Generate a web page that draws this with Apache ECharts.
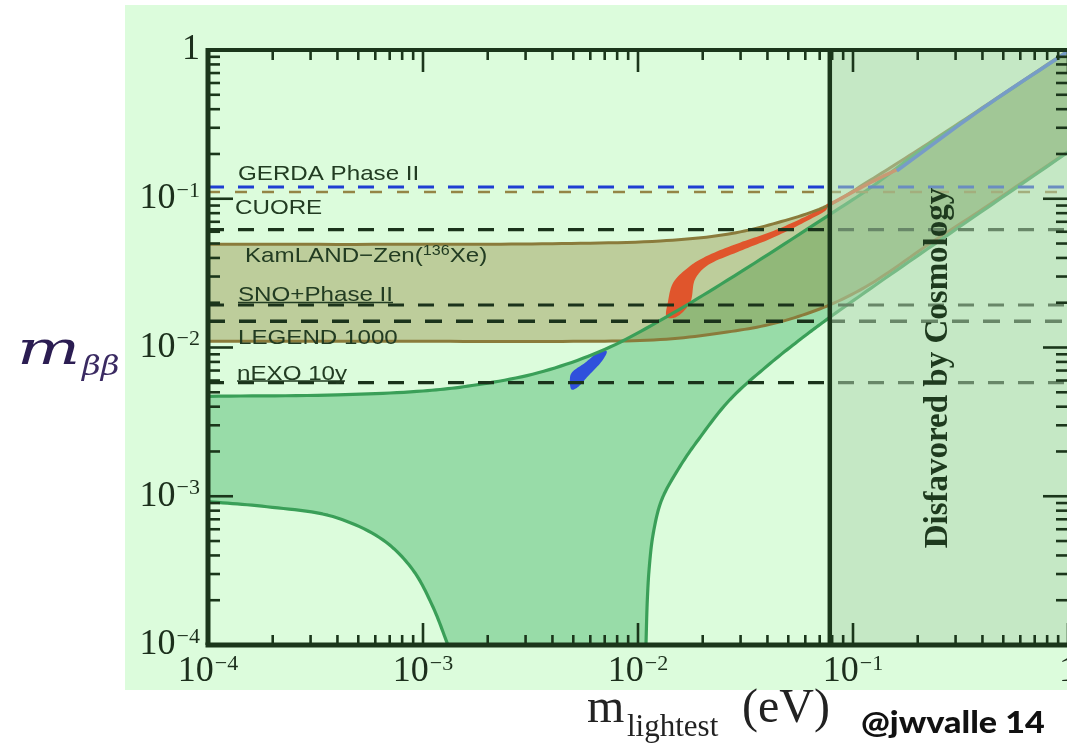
<!DOCTYPE html>
<html>
<head>
<meta charset="utf-8">
<script src="https://cdn.jsdelivr.net/npm/echarts@6/dist/echarts.min.js"></script>
<style>
  html, body { margin: 0; padding: 0; background: #ffffff; overflow: hidden; }
  #chart { width: 1067px; height: 743px; }
</style>
</head>
<body>
<div id="chart"></div>
<script>
// ---- axis ranges (eV) and ticks ----
const xMin = 1e-4, xMax = 1;
const yMin = 1e-4, yMax = 1;
const tickExponents = [-4, -3, -2, -1, 0];
const minorSteps = [2, 3, 4, 5, 6, 7, 8, 9];

// ---- normal ordering band: upper edge, lower edge (left branch, right branch) ----
const nhUpper = [
  [1e-4, 0.0047], [4e-4, 0.0048], [1e-3, 0.0051], [1.69e-3, 0.00555],
  [3.43e-3, 0.00676], [7e-3, 0.0097], [0.0137, 0.0162], [0.0298, 0.032],
  [0.0757, 0.0762], [0.12, 0.118], [0.2, 0.205], [0.4, 0.405], [1, 0.98]
];
const nhLowerLeft = [
  [1e-4, 9.2e-4], [1.88e-4, 8.5e-4], [3.81e-4, 7.3e-4], [6.51e-4, 5.09e-4],
  [8.97e-4, 3.2e-4], [1.113e-3, 1.8e-4], [1.306e-3, 1e-4]
];
const nhLowerRight = [
  [0.01089, 1e-4], [0.01105, 2.01e-4], [0.01129, 3.37e-4], [0.01178, 5.65e-4],
  [0.01289, 9.47e-4], [0.01568, 1.588e-3], [0.01908, 2.40e-3], [0.02679, 4.47e-3],
  [0.04112, 7.8e-3], [0.05872, 0.01175], [0.0754, 0.0154], [0.12, 0.0248],
  [0.254, 0.0526], [1, 0.206]
];

// ---- inverted ordering band ----
const ihUpper = [
  [1e-4, 0.0494], [1e-3, 0.0494], [4e-3, 0.0499], [0.0127, 0.052],
  [0.026, 0.0577], [0.0444, 0.069], [0.0757, 0.0895], [0.12, 0.133],
  [0.2, 0.212], [0.4, 0.41], [1, 0.99]
];
const ihLower = [
  [1e-4, 0.011], [1e-3, 0.011], [5e-3, 0.011], [0.0127, 0.0113],
  [0.026, 0.0127], [0.0444, 0.0147], [0.0757, 0.019], [0.12, 0.0266],
  [0.228, 0.05], [0.4, 0.085], [1, 0.207]
];

// ---- model predictions (closed outlines) ----
const modelRed = [
  [0.0136, 0.0160], [0.0138, 0.0205], [0.01459, 0.0273], [0.01746, 0.0353],
  [0.02087, 0.0412], [0.02979, 0.0507], [0.04256, 0.0607], [0.06095, 0.0766],
  [0.0755, 0.0894], [0.0755, 0.0850], [0.06095, 0.0709], [0.04256, 0.0548],
  [0.02979, 0.0445], [0.02087, 0.0353], [0.01841, 0.0287], [0.01746, 0.0200],
  [0.0150, 0.0160]
];
const modelBlue = [
  [0.00715, 0.00944], [0.00688, 0.0083], [0.00585, 0.00641], [0.00519, 0.00535],
  [0.00491, 0.00521], [0.00482, 0.00609], [0.00491, 0.00675], [0.00567, 0.00789],
  [0.00652, 0.00921]
];
const redTrail = [[0.0757, 0.0894], [0.12, 0.128], [0.16, 0.157]];
const blueTrail = [[0.16, 0.154], [0.4, 0.405], [1, 0.98]];

// ---- experimental sensitivities (eV) ----
const limitNames  = ['gerda', 'cuore', 'kamland', 'snoplus', 'legend', 'nexo'];
const limitValues = [0.12, 0.111, 0.062, 0.0193, 0.015, 0.0058];
const limitColors = ['#1f3fd2', '#948546', '#1b331b', '#1b331b', '#1b331b', '#1b331b'];
const limitDashes = [[16, 14], [12, 15], [16, 14], [16, 14], [17, 14], [16, 14]];
const limitWidths = [3, 2.6, 3.2, 3.2, 3.4, 3.2];

// ---- cosmological bound on the lightest mass (eV) ----
const cosmologyBound = 0.078;

const FRAME = '#1b361b';
const TXT = '#223c22';
const serif = 'Liberation Serif, DejaVu Serif, serif';
const sans = 'Liberation Sans, Arial, sans-serif';

function expLabel(v) {
  const e = Math.round(Math.log10(v));
  if (tickExponents.indexOf(e) < 0) return '';
  if (e === 0) return '{b|1}';
  return '{b|10}{s|\u2212' + (-e) + '}';
}
const labelRich = {
  b: { fontFamily: serif, fontSize: 36, color: '#1c2f1c', lineHeight: 38 },
  s: { fontFamily: serif, fontSize: 22, color: '#1c2f1c', verticalAlign: 'top', lineHeight: 22, padding: [0, 0, 0, 1] }
};

// centripetal Catmull-Rom through pixel points (used to draw smooth edges and fills alike)
function spline(pts, closed, seg) {
  seg = seg || 12;
  const n = pts.length;
  if (n < 3) return pts.slice();
  const out = [];
  const P = i => {
    if (closed) return pts[((i % n) + n) % n];
    if (i < 0) return [2 * pts[0][0] - pts[1][0], 2 * pts[0][1] - pts[1][1]];
    if (i > n - 1) return [2 * pts[n - 1][0] - pts[n - 2][0], 2 * pts[n - 1][1] - pts[n - 2][1]];
    return pts[i];
  };
  const dt = (a, b) => Math.max(Math.sqrt(Math.hypot(b[0] - a[0], b[1] - a[1])), 1e-3);
  const lerp = (a, b, ta, tb, t) => [
    (tb - t) / (tb - ta) * a[0] + (t - ta) / (tb - ta) * b[0],
    (tb - t) / (tb - ta) * a[1] + (t - ta) / (tb - ta) * b[1]
  ];
  const last = closed ? n : n - 1;
  for (let i = 0; i < last; i++) {
    const p0 = P(i - 1), p1 = P(i), p2 = P(i + 1), p3 = P(i + 2);
    const t0 = 0, t1 = t0 + dt(p0, p1), t2 = t1 + dt(p1, p2), t3 = t2 + dt(p2, p3);
    for (let k = 0; k < seg; k++) {
      const t = t1 + (t2 - t1) * k / seg;
      const a1 = lerp(p0, p1, t0, t1, t), a2 = lerp(p1, p2, t1, t2, t), a3 = lerp(p2, p3, t2, t3, t);
      const b1 = lerp(a1, a2, t0, t2, t), b2 = lerp(a2, a3, t1, t3, t);
      out.push(lerp(b1, b2, t1, t2, t));
    }
  }
  if (!closed) out.push(pts[n - 1]);
  return out;
}

function clipRect(params) {
  const c = params.coordSys;
  return { type: 'rect', shape: { x: c.x, y: c.y, width: c.width, height: c.height } };
}

function shapeSeries(z, build) {
  return {
    type: 'custom', coordinateSystem: 'cartesian2d', z: z, clip: true, silent: true,
    data: [[0.01, 0.01]], encode: { x: 0, y: 1 },
    renderItem: function (params, api) {
      const px = pts => pts.map(p => api.coord(p));
      const curve = (pts, closed) => spline(px(pts), closed);
      return { type: 'group', clipPath: clipRect(params), children: build(curve, api, params) };
    }
  };
}
const stroke = (pts, color, w) => ({ type: 'polyline', shape: { points: pts }, style: { stroke: color, lineWidth: w, fill: null, lineJoin: 'round' } });

const series = [];

// band fills
series.push(shapeSeries(2, curve => [{
  type: 'polygon',
  shape: { points: [...curve(nhUpper), ...curve(nhLowerRight).reverse(), ...curve(nhLowerLeft).reverse()] },
  style: { fill: '#98dca8' }
}]));
series.push(shapeSeries(3, curve => [{
  type: 'polygon',
  shape: { points: [...curve(ihUpper), ...curve(ihLower).reverse()] },
  style: { fill: 'rgba(131,118,34,0.35)' }
}]));
// model regions
series.push(shapeSeries(4, curve => [
  { type: 'polygon', shape: { points: curve(modelRed, true) }, style: { fill: '#e0552c' } },
  { type: 'polygon', shape: { points: curve(modelBlue, true) }, style: { fill: '#2f50dc' } }
]));
// band edges
series.push(shapeSeries(5, curve => [
  stroke(curve(ihUpper), '#8a7b3b', 3),
  stroke(curve(ihLower), '#8a7b3b', 3),
  stroke(curve(nhUpper), '#3a9f58', 3.2),
  stroke(curve(nhLowerLeft), '#3a9f58', 3.2),
  stroke(curve(nhLowerRight), '#3a9f58', 3.2)
]));
// sensitivity lines
limitValues.forEach((v, i) => {
  series.push({
    type: 'line', name: limitNames[i], z: 6, silent: true, symbol: 'none',
    data: [[xMin, v], [xMax, v]],
    lineStyle: { color: limitColors[i], width: limitWidths[i], type: limitDashes[i] }
  });
});
// continuation of the model curves
series.push(shapeSeries(7, curve => [
  stroke(curve(redTrail), '#e25a32', 3.5),
  stroke(curve(blueTrail), '#3a5ee0', 3.5)
]));
// disfavoured region
series.push(shapeSeries(8, (curve, api) => {
  const a = api.coord([cosmologyBound, yMax]), b = api.coord([xMax, yMin]);
  return [{ type: 'rect', shape: { x: a[0], y: a[1], width: b[0] - a[0], height: b[1] - a[1] }, style: { fill: 'rgba(176,212,176,0.52)' } }];
}));
series.push({
  type: 'line', z: 9, silent: true, symbol: 'none',
  data: [[cosmologyBound, yMin], [cosmologyBound, yMax]],
  lineStyle: { color: FRAME, width: 4.5 }
});
// frame and ticks
series.push({
  type: 'custom', coordinateSystem: 'cartesian2d', z: 10, silent: true,
  data: [[0.01, 0.01]], encode: { x: 0, y: 1 },
  renderItem: function (params, api) {
    const c = params.coordSys;
    const L = c.x, R = c.x + c.width, T = c.y, B = c.y + c.height;
    const out = [];
    const seg = (x1, y1, x2, y2, w) => out.push({ type: 'line', shape: { x1, y1, x2, y2 }, style: { stroke: FRAME, lineWidth: w } });
    tickExponents.forEach(e => {
      const steps = e === 0 ? [1] : [1, ...minorSteps];
      steps.forEach(s => {
        const v = s * Math.pow(10, e);
        const major = s === 1;
        const xp = api.coord([v, yMin])[0];
        const yp = api.coord([xMin, v])[1];
        const lx = major ? 22 : 10, ly = major ? 25 : 12;
        seg(xp, B, xp, B - lx, 2.6);
        seg(xp, T, xp, T + lx, 2.6);
        seg(L, yp, L + ly, yp, 2.6);
        seg(R, yp, R - ly, yp, 2.6);
      });
    });
    seg(L - 2.5, B, R, B, 5);
    seg(L, T - 2, L, B, 5);
    seg(L, T, R, T, 4);
    return { type: 'group', children: out };
  }
});

// text labels of the sensitivity lines
function lineLabel(text, x, y, rich) {
  return {
    type: 'text', x: x, y: y, scaleX: 1.15, z: 100, silent: true,
    style: { text: text, x: 0, y: 0, fill: TXT, fontFamily: sans, fontSize: 21,
             verticalAlign: 'middle', align: 'left', rich: rich }
  };
}
function underline(x1, x2, y) {
  return { type: 'line', z: 100, silent: true, shape: { x1: x1, y1: y, x2: x2, y2: y }, style: { stroke: TXT, lineWidth: 1.6 } };
}
const supRich = { s: { fontFamily: sans, fontSize: 14, fill: TXT, verticalAlign: 'top', lineHeight: 14 },
                  n: { fontFamily: sans, fontSize: 21, fill: TXT, lineHeight: 24 } };

const option = {
  backgroundColor: '#ffffff',
  animation: false,
  grid: { left: 208, top: 50, width: 860, height: 595, containLabel: false, outerBoundsMode: 'none' },
  xAxis: {
    type: 'log', logBase: 10, min: xMin, max: xMax,
    axisLine: { show: false }, axisTick: { show: false }, splitLine: { show: false }, minorTick: { show: false },
    axisLabel: { formatter: expLabel, rich: labelRich, margin: 8, showMaxLabel: true, hideOverlap: false }
  },
  yAxis: {
    type: 'log', logBase: 10, min: yMin, max: yMax,
    axisLine: { show: false }, axisTick: { show: false }, splitLine: { show: false }, minorTick: { show: false },
    axisLabel: { formatter: expLabel, rich: labelRich, margin: 8, showMaxLabel: true, hideOverlap: false }
  },
  graphic: [
    { type: 'rect', z: -100, silent: true, shape: { x: 125, y: 5, width: 942, height: 685 }, style: { fill: '#dcfcdc' } },
    lineLabel('GERDA Phase II', 238, 174),
    lineLabel('CUORE', 235, 208),
    lineLabel('{n|KamLAND\u2212Zen(}{s|136}{n|Xe)}', 245, 256, supRich),
    lineLabel('SNO+Phase II', 238, 295),
    underline(238, 393, 302.5),
    lineLabel('LEGEND 1000', 238, 338),
    lineLabel('nEXO 10y', 237, 374),
    underline(237, 345, 381),
    {
      type: 'text', x: 938, y: 368, rotation: Math.PI / 2, z: 100, silent: true,
      style: { text: 'Disfavored by Cosmology', fill: '#1e3a1e', fontFamily: serif, fontSize: 33, fontWeight: 'bold',
               align: 'center', verticalAlign: 'middle' }
    },
    { type: 'text', x: 17, y: 352, scaleX: 1.45, z: 100, silent: true,
      style: { text: 'm', x: 0, y: 0, fill: '#2b1d52', fontFamily: 'DejaVu Serif, serif', fontStyle: 'italic', fontSize: 46, verticalAlign: 'middle' } },
    { type: 'text', x: 82, y: 368, scaleX: 1.2, z: 100, silent: true,
      style: { text: '\u03b2\u03b2', x: 0, y: 0, fill: '#3a2a62', fontFamily: 'DejaVu Serif, serif', fontStyle: 'italic', fontSize: 27, verticalAlign: 'middle' } },
    { type: 'text', x: 587, y: 709, z: 100, silent: true,
      style: { text: 'm', fill: '#222222', fontFamily: serif, fontSize: 48, verticalAlign: 'middle' } },
    { type: 'text', x: 627, y: 728, z: 100, silent: true,
      style: { text: 'lightest', fill: '#222222', fontFamily: serif, fontSize: 31, verticalAlign: 'middle' } },
    { type: 'text', x: 742, y: 709, z: 100, silent: true,
      style: { text: '(eV)', fill: '#222222', fontFamily: serif, fontSize: 48, verticalAlign: 'middle' } },
    { type: 'text', x: 861, y: 723, scaleX: 1.1, z: 100, silent: true,
      style: { text: '@jwvalle 14', x: 0, y: 0, fill: '#111111', fontFamily: 'Lato, sans-serif', fontWeight: 900, fontSize: 31, verticalAlign: 'middle' } }
  ],
  series: series
};

const chart = echarts.init(document.getElementById('chart'));
chart.setOption(option);
</script>
</body>
</html>
